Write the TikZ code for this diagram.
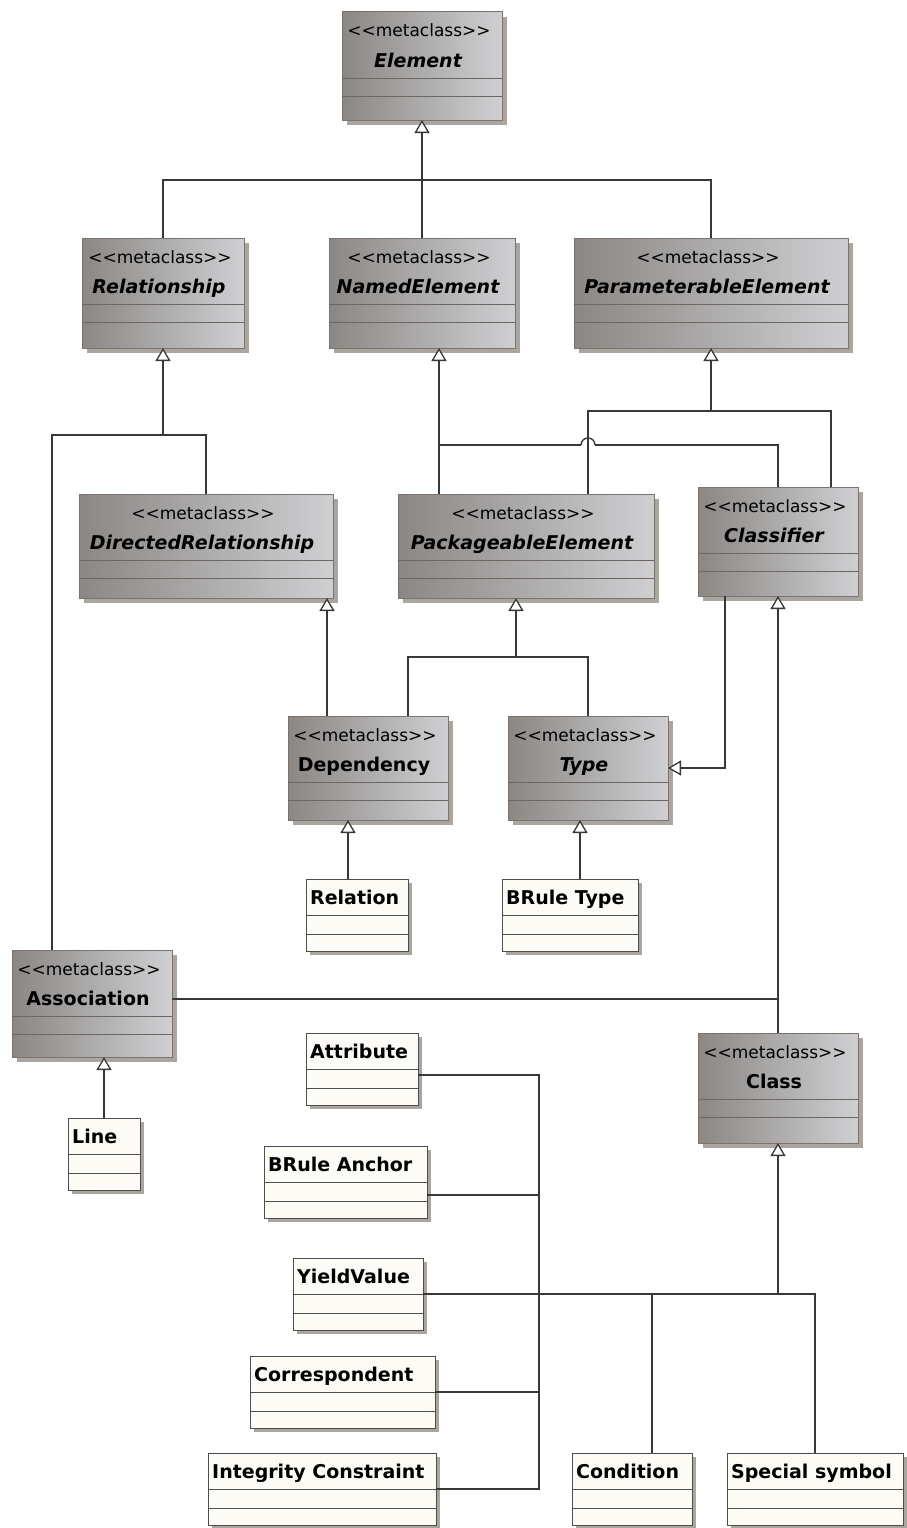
\documentclass[tikz,border=0pt]{standalone}
\usepackage{fontspec}
\setmainfont{DejaVu Sans}
\usetikzlibrary{arrows.meta,shadows}

\definecolor{wirec}{HTML}{383838}
\definecolor{metaleft}{HTML}{8A8784}
\definecolor{metaright}{HTML}{CFCFD2}
\definecolor{metaedge}{HTML}{7C736C}
\definecolor{metasep}{HTML}{6E6660}
\definecolor{castshadow}{HTML}{ABA59F}
\definecolor{paper}{HTML}{FCFBF5}
\definecolor{plainedge}{HTML}{4E4E4E}

% stereotype text; the kerns keep << and >> from turning into guillemets
\newcommand{\stereotext}{<\kern0pt<metaclass>\kern0pt>}

\tikzset{
  metabox/.style={draw=metaedge, line width=1pt, left color=metaleft, right color=metaright,
    inner sep=0pt, outer sep=0pt,
    drop shadow={shadow xshift=5pt, shadow yshift=-5pt, fill=castshadow, opacity=1}},
  plainbox/.style={draw=plainedge, line width=1pt, fill=paper, inner sep=0pt, outer sep=0pt,
    drop shadow={shadow xshift=4pt, shadow yshift=-4pt, fill=castshadow, opacity=1}},
  metasepline/.style={draw=metasep, line width=0.9pt},
  plainsepline/.style={draw=plainedge, line width=0.9pt},
  stereo/.style={anchor=base, inner sep=0pt, font=\fontsize{17}{20}\selectfont},
  absname/.style={anchor=base, inner sep=0pt, font=\fontsize{19}{22}\selectfont\bfseries\itshape},
  conname/.style={anchor=base, inner sep=0pt, font=\fontsize{19}{22}\selectfont\bfseries},
  plainname/.style={anchor=base west, inner sep=0pt, font=\fontsize{19}{22}\selectfont\bfseries},
  wire/.style={draw=wirec, line width=1.4pt},
  gen/.style={wire, -{Triangle[fill=white, length=13pt, width=15pt, line width=1.3pt]}},
}

% metaclass box: name, left, top, width, height, name style, label
\newcommand{\metaclass}[7]{%
  \node[metabox, minimum width=#4pt, minimum height=#5pt, anchor=north west] (#1) at (#2,#3) {};
  \draw[metasepline] ([yshift=-66pt]#1.north west) -- ([yshift=-66pt]#1.north east)
    ([yshift=-84pt]#1.north west) -- ([yshift=-84pt]#1.north east);
  \node[stereo] (#1-st) at ([xshift=-3pt,yshift=-25pt]#1.north) {\stereotext};
  \node[#6] (#1-nm) at ([xshift=-4pt,yshift=-55pt]#1.north) {#7};
}

% plain class box: name, left, top, width, label
\newcommand{\plainclass}[5]{%
  \node[plainbox, minimum width=#4pt, minimum height=72pt, anchor=north west] (#1) at (#2,#3) {};
  \draw[plainsepline] ([yshift=-36pt]#1.north west) -- ([yshift=-36pt]#1.north east)
    ([yshift=-55pt]#1.north west) -- ([yshift=-55pt]#1.north east);
  \node[plainname] (#1-nm) at ([xshift=4pt,yshift=-25pt]#1.north west) {#5};
}

\begin{document}
\begin{tikzpicture}[x=1pt,y=-1pt]
\fill[white] (0,0) rectangle (906,1528);
\useasboundingbox (0,0) rectangle (906,1528);

% metaclasses
\metaclass{element}{342}{12}{160}{108}{absname}{Element}
\metaclass{relationship}{82}{238}{162}{110}{absname}{Relationship}
\metaclass{named}{329}{238}{186}{110}{absname}{NamedElement}
\metaclass{param}{574}{238}{274}{110}{absname}{ParameterableElement}
\metaclass{dirrel}{79}{494}{254}{104}{absname}{DirectedRelationship}
\metaclass{pkg}{398}{494}{256}{104}{absname}{PackageableElement}
\metaclass{classifier}{698}{487}{160}{109}{absname}{Classifier}
\metaclass{dependency}{288}{716}{160}{104}{conname}{Dependency}
\metaclass{type}{508}{716}{160}{104}{absname}{Type}
\metaclass{association}{12}{950}{160}{107}{conname}{Association}
\metaclass{class}{698}{1033}{160}{110}{conname}{Class}

% plain classes
\plainclass{relation}{306}{879}{102}{Relation}
\plainclass{bruletype}{502}{879}{136}{BRule Type}
\plainclass{line}{68}{1118}{72}{Line}
\plainclass{attribute}{306}{1033}{112}{Attribute}
\plainclass{ruleanchor}{264}{1146}{163}{BRule Anchor}
\plainclass{yield}{293}{1258}{130}{YieldValue}
\plainclass{corresp}{250}{1356}{185}{Correspondent}
\plainclass{integrity}{208}{1453}{228}{Integrity Constraint}
\plainclass{condition}{572}{1453}{120}{Condition}
\plainclass{special}{727}{1453}{176}{Special symbol}

% Element and its direct subclasses
\coordinate (elbus) at (422,180);
\draw[gen] (elbus) -- (element.south);
\draw[wire] (relationship.north) |- (param.north |- elbus) -- (param.north);
\draw[wire] (named.north) -- (elbus);

% Relationship
\coordinate (relbus) at (163,435);
\draw[gen] (relbus) -- (relationship.south);
\coordinate (assoc-top) at ([xshift=-40pt]association.north);
\draw[wire] (assoc-top) |- (dirrel.north |- relbus) -- (dirrel.north);

% NamedElement (with a hop over the ParameterableElement line)
\coordinate (pkg-left) at ([xshift=-87pt]pkg.north);
\coordinate (nebus) at (439,445);
\coordinate (hop-l) at (581,445);
\coordinate (hop-r) at (595,445);
\draw[gen] (pkg-left) -- (pkg-left |- named.south);
\draw[wire] (nebus) -- (hop-l);
\draw[wire] (hop-l) arc[start angle=180, end angle=0, radius=7pt];
\draw[wire] (hop-r) -- (classifier.north |- nebus) -- (classifier.north);

% ParameterableElement
\coordinate (pebus) at (711,411);
\draw[gen] (pebus) -- (param.south);
\coordinate (pkg-right) at ([xshift=62pt]pkg.north);
\coordinate (clf-right) at ([xshift=53pt]classifier.north);
\draw[wire] (pkg-right) |- (clf-right |- pebus) -- (clf-right);

% PackageableElement
\coordinate (pkbus) at (516,657);
\draw[gen] (pkbus) -- (pkbus |- pkg.south);
\coordinate (dep-right) at ([xshift=40pt]dependency.north);
\draw[wire] (dep-right) |- (type.north |- pkbus) -- (type.north);

% DirectedRelationship
\coordinate (dep-left) at ([xshift=-41pt]dependency.north);
\draw[gen] (dep-left) -- (dep-left |- dirrel.south);

% Classifier
\coordinate (clf-left) at ([xshift=-53pt]classifier.south);
\draw[gen] (clf-left) |- (type.east);
\draw[gen] (classifier.south |- class.north) -- (classifier.south);
\coordinate (assoc-right) at ([yshift=4.5pt]association.east);
\draw[wire] (assoc-right) -- (assoc-right -| classifier.south);

% Dependency, Type, Association
\coordinate (rel-top) at ([xshift=-9pt]relation.north);
\draw[gen] (rel-top) -- (rel-top |- dependency.south);
\coordinate (brt-top) at ([xshift=10pt]bruletype.north);
\draw[gen] (brt-top) -- (brt-top |- type.south);
\draw[gen] (line.north) -- (line.north |- association.south);

% Class
\coordinate (clbus) at (778,1293);
\draw[gen] (clbus) -- (class.south);
\draw[wire] (yield.east) -| (special.north);
\coordinate (cond-top) at ([xshift=20pt]condition.north);
\draw[wire] (cond-top) -- (cond-top |- yield.east);

% bus on the left
\coordinate (bus-x) at (539,1293);
\coordinate (attr-out) at ([yshift=-6pt]attribute.east);
\draw[wire] (attr-out) -| (bus-x |- integrity.east) -- (integrity.east);
\coordinate (anchor-out) at ([yshift=-13pt]ruleanchor.east);
\draw[wire] (anchor-out) -- (anchor-out -| bus-x);
\draw[wire] (corresp.east) -- (corresp.east -| bus-x);
\end{tikzpicture}
\end{document}
